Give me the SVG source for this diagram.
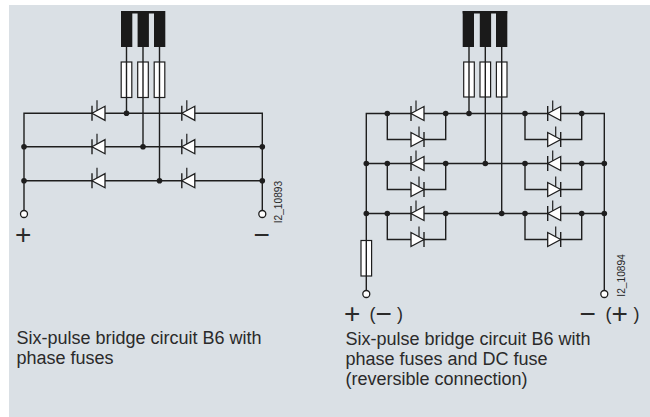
<svg xmlns="http://www.w3.org/2000/svg" xmlns:xlink="http://www.w3.org/1999/xlink" width="650" height="417" viewBox="0 0 650 417">
<style>
.w{fill:none;stroke:#1e1e1e;stroke-width:1.4}
.fuse{fill:#fff;stroke:#1e1e1e;stroke-width:1.2}
.bar{fill:#1a1a1a}
.dot{fill:#1e1e1e}
.term{fill:#fff;stroke:#1e1e1e;stroke-width:1.3}
.t{font-family:"Liberation Sans",Arial,sans-serif;fill:#2a2a2a}
.cap{font-size:18px}
.sym{font-size:28px}
.par{font-size:18px}
.id{font-size:10.2px}
</style>
<defs>
<g id="thL">
<polygon points="-6.5,0 6.5,-7 6.5,7" fill="#fff" stroke="#1e1e1e" stroke-width="1.3" stroke-linejoin="miter"/>
<line x1="-6.5" y1="-7.5" x2="-6.5" y2="7.5" stroke="#1e1e1e" stroke-width="1.4"/>
<line x1="-1.5" y1="-2.7" x2="-1.5" y2="-13" stroke="#1e1e1e" stroke-width="1.2"/>
</g>
<g id="thR">
<polygon points="6.5,0 -6.5,-7 -6.5,7" fill="#fff" stroke="#1e1e1e" stroke-width="1.3" stroke-linejoin="miter"/>
<line x1="6.5" y1="-7.5" x2="6.5" y2="7.5" stroke="#1e1e1e" stroke-width="1.4"/>
<line x1="1.5" y1="-2.7" x2="1.5" y2="-13" stroke="#1e1e1e" stroke-width="1.2"/>
</g>
</defs>
<rect x="9" y="5" width="641" height="412" fill="#dae0e5"/>

<!-- LEFT CIRCUIT -->
<g id="left-connectors">
<path class="w" d="M24,210.5 V113.3 H262.3 V210.5 M24,146.7 H262.3 M24,180.7 H262.3"/>
<path class="w" d="M126.5,47 V113.3 M143,47 V146.7 M159.5,47 V180.7"/>
</g>
<g id="left-supply">
<rect class="bar" x="121" y="11" width="44" height="2.5"/>
<rect class="bar" x="121" y="11" width="11.3" height="36"/>
<rect class="bar" x="137.6" y="11" width="11.3" height="36"/>
<rect class="bar" x="154" y="11" width="11.3" height="36"/>
</g>
<g id="left-fuses">
<rect class="fuse" x="121.2" y="62" width="10.6" height="35.5"/>
<rect class="fuse" x="137.7" y="62" width="10.6" height="35.5"/>
<rect class="fuse" x="154.2" y="62" width="10.6" height="35.5"/>
<path class="w" d="M126.5,62 V97.5 M143,62 V97.5 M159.5,62 V97.5"/>
</g>
<g id="left-thyristors">
<use xlink:href="#thL" x="98.5" y="113.3"/>
<use xlink:href="#thL" x="188.3" y="113.3"/>
<use xlink:href="#thL" x="98.5" y="146.7"/>
<use xlink:href="#thL" x="188.3" y="146.7"/>
<use xlink:href="#thL" x="98.5" y="180.7"/>
<use xlink:href="#thL" x="188.3" y="180.7"/>
</g>
<g id="left-junctions">
<circle class="dot" cx="126.5" cy="113.3" r="2.8"/>
<circle class="dot" cx="143" cy="146.7" r="2.8"/>
<circle class="dot" cx="159.5" cy="180.7" r="2.8"/>
<circle class="dot" cx="24" cy="146.7" r="2.8"/>
<circle class="dot" cx="24" cy="180.7" r="2.8"/>
<circle class="dot" cx="262.3" cy="146.7" r="2.8"/>
<circle class="dot" cx="262.3" cy="180.7" r="2.8"/>
</g>
<g id="left-terminals">
<circle class="term" cx="24" cy="214" r="3.5"/>
<circle class="term" cx="262.3" cy="214" r="3.5"/>
<text class="t sym" x="15" y="243.5">+</text>
<text class="t sym" x="253.5" y="244">−</text>
<text class="t id" transform="translate(281.5,223.3) rotate(-90)">I2_10893</text>
</g>
<g id="left-caption">
<text class="t cap" x="16.5" y="344">Six-pulse bridge circuit B6 with</text>
<text class="t cap" x="16.5" y="364">phase fuses</text>
</g>

<!-- RIGHT CIRCUIT -->
<g id="right-connectors">
<path class="w" d="M366.3,290.5 V113.5 H604.3 V290.5 M366.3,163.5 H604.3 M366.3,213.5 H604.3"/>
<path class="w" d="M387.3,113.5 V139.5 H445.7 V113.5 M525,113.5 V139.5 H581.7 V113.5"/>
<path class="w" d="M387.3,163.5 V189.5 H445.7 V163.5 M525,163.5 V189.5 H581.7 V163.5"/>
<path class="w" d="M387.3,213.5 V239.5 H445.7 V213.5 M525,213.5 V239.5 H581.7 V213.5"/>
<path class="w" d="M469,47 V113.5 M485.3,47 V163.5 M501.7,47 V213.5"/>
</g>
<g id="right-supply">
<rect class="bar" x="462.7" y="11" width="44.5" height="2.5"/>
<rect class="bar" x="462.7" y="11" width="11.3" height="36"/>
<rect class="bar" x="479.8" y="11" width="11.3" height="36"/>
<rect class="bar" x="496" y="11" width="11.3" height="36"/>
</g>
<g id="right-fuses">
<rect class="fuse" x="463.7" y="62" width="10.6" height="35"/>
<rect class="fuse" x="480" y="62" width="10.6" height="35"/>
<rect class="fuse" x="496.4" y="62" width="10.6" height="35"/>
<path class="w" d="M469,62 V97 M485.3,62 V97 M501.7,62 V97"/>
</g>
<g id="dc-fuse">
<rect class="fuse" x="361" y="240.5" width="10.6" height="35.5"/>
<path class="w" d="M366.3,240.5 V276"/>
</g>
<g id="right-thyristors">
<use xlink:href="#thL" x="417.5" y="113.5"/>
<use xlink:href="#thR" x="417.5" y="139.5"/>
<use xlink:href="#thL" x="554.2" y="113.5"/>
<use xlink:href="#thR" x="554.2" y="139.5"/>
<use xlink:href="#thL" x="417.5" y="163.5"/>
<use xlink:href="#thR" x="417.5" y="189.5"/>
<use xlink:href="#thL" x="554.2" y="163.5"/>
<use xlink:href="#thR" x="554.2" y="189.5"/>
<use xlink:href="#thL" x="417.5" y="213.5"/>
<use xlink:href="#thR" x="417.5" y="239.5"/>
<use xlink:href="#thL" x="554.2" y="213.5"/>
<use xlink:href="#thR" x="554.2" y="239.5"/>
</g>
<g id="right-junctions">
<circle class="dot" cx="387.3" cy="113.5" r="2.8"/>
<circle class="dot" cx="445.7" cy="113.5" r="2.8"/>
<circle class="dot" cx="469" cy="113.5" r="2.8"/>
<circle class="dot" cx="525" cy="113.5" r="2.8"/>
<circle class="dot" cx="581.7" cy="113.5" r="2.8"/>
<circle class="dot" cx="366.3" cy="163.5" r="2.8"/>
<circle class="dot" cx="387.3" cy="163.5" r="2.8"/>
<circle class="dot" cx="445.7" cy="163.5" r="2.8"/>
<circle class="dot" cx="485.3" cy="163.5" r="2.8"/>
<circle class="dot" cx="525" cy="163.5" r="2.8"/>
<circle class="dot" cx="581.7" cy="163.5" r="2.8"/>
<circle class="dot" cx="604.3" cy="163.5" r="2.8"/>
<circle class="dot" cx="366.3" cy="213.5" r="2.8"/>
<circle class="dot" cx="387.3" cy="213.5" r="2.8"/>
<circle class="dot" cx="445.7" cy="213.5" r="2.8"/>
<circle class="dot" cx="501.7" cy="213.5" r="2.8"/>
<circle class="dot" cx="525" cy="213.5" r="2.8"/>
<circle class="dot" cx="581.7" cy="213.5" r="2.8"/>
<circle class="dot" cx="604.3" cy="213.5" r="2.8"/>
</g>
<g id="right-terminals">
<circle class="term" cx="366.3" cy="294" r="3.5"/>
<circle class="term" cx="604.3" cy="294" r="3.5"/>
<text class="t par" y="319.5"><tspan class="sym" x="344" dy="3">+ </tspan><tspan x="369.5" dy="-3">(</tspan><tspan class="sym" x="375.5" dy="3">−</tspan><tspan x="397" dy="-3">)</tspan></text>
<text class="t par" y="319.5"><tspan class="sym" x="579.5" dy="3">− </tspan><tspan x="605.5" dy="-3">(</tspan><tspan class="sym" x="611.5" dy="3">+</tspan><tspan x="633.5" dy="-3">)</tspan></text>
<text class="t id" transform="translate(625,296.7) rotate(-90)">I2_10894</text>
</g>
<g id="right-caption">
<text class="t cap" x="345.5" y="344.5">Six-pulse bridge circuit B6 with</text>
<text class="t cap" x="345.5" y="364.5">phase fuses and DC fuse</text>
<text class="t cap" x="345.5" y="384.5">(reversible connection)</text>
</g>
</svg>
